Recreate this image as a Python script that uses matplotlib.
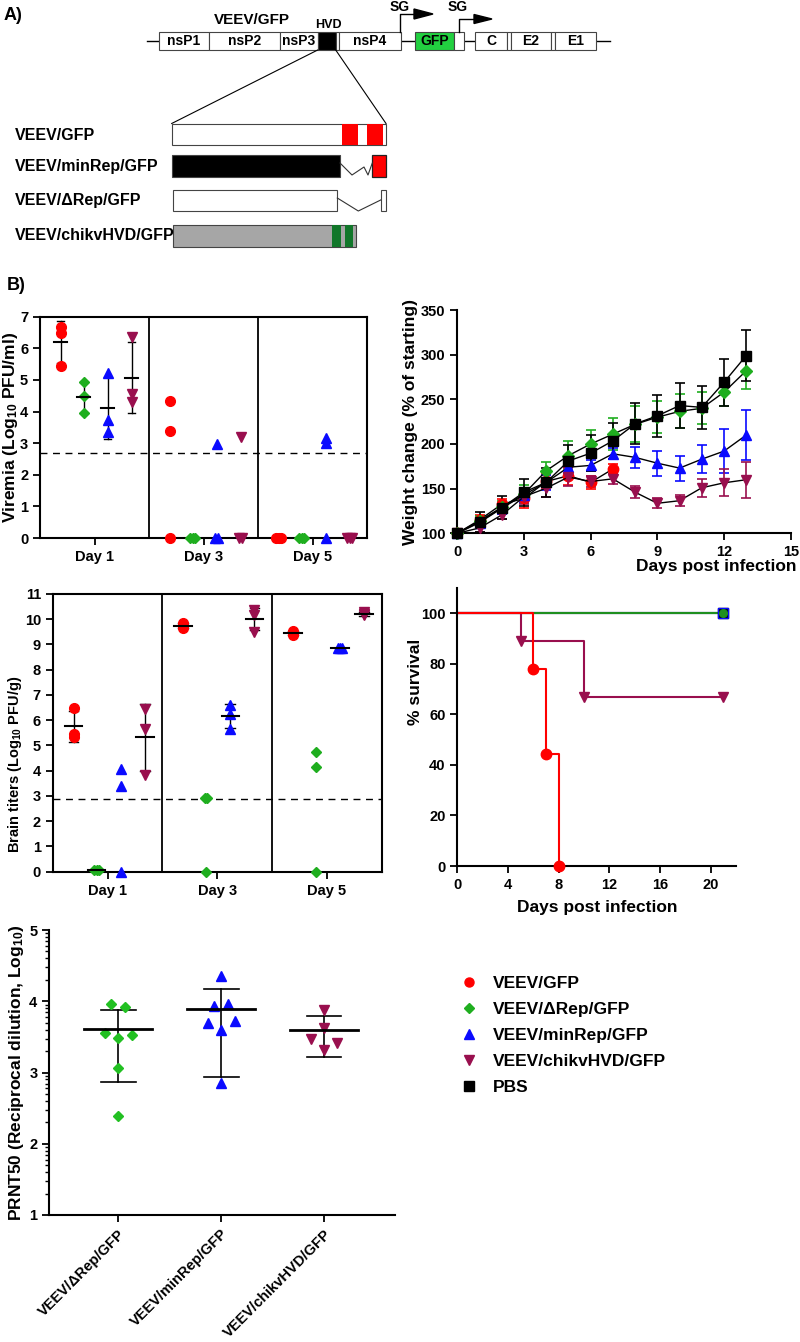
import numpy as np
import matplotlib
matplotlib.use('Agg')
import matplotlib.pyplot as plt
from matplotlib.patches import Rectangle, Polygon
from matplotlib.lines import Line2D
from matplotlib.ticker import FixedLocator, FuncFormatter, LogLocator, NullFormatter

plt.rcParams['font.family'] = ['Liberation Sans', 'DejaVu Sans']
plt.rcParams['font.weight'] = 'bold'
plt.rcParams['axes.labelweight'] = 'bold'
plt.rcParams['mathtext.fontset'] = 'custom'
plt.rcParams['mathtext.rm'] = 'Liberation Sans:bold'
plt.rcParams['mathtext.bf'] = 'Liberation Sans:bold'
plt.rcParams['mathtext.it'] = 'Liberation Sans:bold'
plt.rcParams['mathtext.default'] = 'bf'

# ---------------- data ----------------
groups = ['VEEV/GFP', 'VEEV/\u0394Rep/GFP', 'VEEV/minRep/GFP', 'VEEV/chikvHVD/GFP', 'PBS']
days = ['Day 1', 'Day 3', 'Day 5']

# viremia, log10 PFU/ml, [day1, day3, day5]
vir_gfp = [[6.68, 6.50, 5.44], [4.34, 3.38, 0], [0, 0, 0]]
vir_drep = [[4.92, 4.49, 3.95], [0, 0, 0], [0, 0, 0]]
vir_minrep = [[5.21, 3.74, 3.35], [2.98, 0, 0], [3.15, 3.00, 0]]
vir_chikv = [[6.35, 4.56, 4.29], [3.20, 0, 0], [0, 0, 0]]
vir_lod = 2.7

# brain titers, log10 PFU/g
brain_gfp = [[6.47, 5.45, 5.35], [9.85, 9.72, 9.65], [9.52, 9.45, 9.38]]
brain_drep = [[0.05, 0.05, 0.05], [2.92, 2.92, 0], [4.75, 4.15, 0]]
brain_minrep = [[4.07, 3.40, 0], [6.60, 6.25, 5.65], [8.85, 8.85, 8.85]]
brain_chikv = [[6.45, 5.65, 3.85], [10.35, 10.15, 9.50], [10.30, 10.20, 10.15]]
brain_lod = 2.88

# weight change (% of starting)
w_days = list(range(14))
w_gfp = [100, 115, 132.5, 139, 158, 164.5, 157, 172]
w_gfp_sd = [0, 5, 6, 11, 8, 10, 7, 6]
w_drep = [100, 114, 129, 144, 170, 187, 200, 211, 222, 230, 236.5, 240, 258, 282]
w_drep_sd = [0, 5, 7, 10, 10, 16, 16, 18, 20, 18, 19, 18, 16, 20]
w_minrep = [100, 112, 128, 143, 157, 174, 176, 189, 185, 178.5, 173, 183, 192, 210]
w_minrep_sd = [0, 4, 6, 8, 8, 6, 6, 6, 12, 14, 14, 16, 25, 28]
w_chikv = [100, 106, 120.5, 141, 150.5, 163, 158, 161, 146, 133.6, 136.5, 151, 156.5, 160]
w_chikv_sd = [0, 4, 5, 8, 10, 10, 6, 5.5, 6.5, 5.5, 6, 10, 15, 20]
w_pbs = [100, 113, 128.5, 146, 157, 181, 189.7, 203.5, 222.5, 231.5, 243, 241, 269, 299]
w_pbs_sd = [0, 11, 13, 15, 16, 17.5, 20, 20, 23, 23.5, 25, 24, 26.5, 29]

# survival (Kaplan-Meier steps)
s_gfp_t, s_gfp = [0, 6, 7, 8], [100, 77.8, 44.4, 0]
s_chikv_t, s_chikv = [0, 5, 10, 21], [100, 88.9, 66.7, 66.7]
s_other_t, s_other = [0, 21], [100, 100]

# PRNT50, log10 reciprocal dilution
prnt_drep = [3.96, 3.92, 3.56, 3.48, 3.53, 3.06, 2.39]
prnt_minrep = [4.35, 3.94, 3.96, 3.70, 3.72, 3.59, 2.85]
prnt_chikv = [3.88, 3.63, 3.47, 3.41, 3.32]
prnt_labels = ['VEEV/\u0394Rep/GFP', 'VEEV/minRep/GFP', 'VEEV/chikvHVD/GFP']

# ---------------- styles / layout ----------------
RED, GRN, BLU, PUR, BLK = '#ff0000', '#1fae1f', '#0a0aff', '#990f4e', 'black'
cols = [RED, GRN, BLU, PUR, BLK]
mks = ['o', 'D', '^', 'v', 's']
mss = [7, 5.5, 7, 7, 7]
grp_dx = [-0.31, -0.10, 0.12, 0.34]
prnt_dx = [[-0.068, 0.068, -0.133, 0, 0.136, 0, 0],
           [0, -0.065, 0.071, -0.13, 0.136, 0, 0],
           [0, 0, -0.13, 0.13, 0]]

W, H = 800, 1342
fig = plt.figure(figsize=(W / 100, H / 100), dpi=100)


def px_axes(left, top, right, bottom):
    return fig.add_axes([left / W, 1 - bottom / H, (right - left) / W, (bottom - top) / H])


def tie_spread(v, step):
    off = np.zeros(len(v))
    for u in set(v.tolist()):
        idx = np.where(v == u)[0]
        off[idx] = (np.arange(len(idx)) - (len(idx) - 1) / 2) * step
    return off


def style(ax, box=False):
    for s in ax.spines.values():
        s.set_linewidth(1.5)
    if not box:
        ax.spines['top'].set_visible(False)
        ax.spines['right'].set_visible(False)
    ax.tick_params(direction='out', length=5, width=1.3, labelsize=10.5)


def dot_panel(ax, series, ymax, lod, mean_hw, cap_hw):
    for g, by_day in enumerate(series):
        for d, vals in enumerate(by_day):
            v = np.array(vals, float)
            c = d + grp_dx[g]
            ax.plot(c + tie_spread(v, 0.022), v, ls='none', marker=mks[g], ms=mss[g],
                    color=cols[g], clip_on=False, zorder=4)
            if v.min() > 0:
                m, s = v.mean(), v.std(ddof=1)
                ax.plot([c - mean_hw, c + mean_hw], [m, m], color='black', lw=1.5, zorder=5)
                ax.plot([c, c], [m - s, m + s], color='black', lw=1, zorder=3)
                for e in (m - s, m + s):
                    ax.plot([c - cap_hw, c + cap_hw], [e, e], color='black', lw=1, zorder=3)
    ax.axhline(lod, color='black', lw=1, dashes=(5, 4), zorder=1)
    for xv in (0.5, 1.5):
        ax.axvline(xv, color='black', lw=1.3, zorder=1)
    ax.set_xlim(-0.5, 2.5)
    ax.set_ylim(0, ymax)
    ax.set_xticks(range(3))
    ax.set_xticklabels(days, fontsize=12)
    ax.set_yticks(range(ymax + 1))
    style(ax, box=True)


# ---------------- panel A: genome schematic ----------------
axA = fig.add_axes([0, 1 - 265 / H, 1, 265 / H])
axA.set_xlim(0, W)
axA.set_ylim(265, 0)
axA.axis('off')
EC = '#444444'
axA.plot([147, 610], [41, 41], color='black', lw=1, zorder=1)
genome = [('nsP1', 159, 209, 'white'), ('nsP2', 209, 280, 'white'), ('nsP3', 280, 318, 'white'),
          ('', 318, 336, 'black'), ('', 336, 339, 'white'), ('nsP4', 339, 401, 'white'),
          ('GFP', 415, 454, '#22d040'), ('', 454, 464, 'white'), ('C', 475, 507, 'white'),
          ('', 507, 511, 'white'), ('E2', 511, 551, 'white'), ('', 551, 555, 'white'),
          ('E1', 555, 596, 'white')]
for lab, x0, x1, fc in genome:
    axA.add_patch(Rectangle((x0, 31.7), x1 - x0, 18.3, fc=fc, ec=EC, lw=0.8, zorder=2))
    if lab:
        axA.text((x0 + x1) / 2, 41, lab, ha='center', va='center', fontsize=10, zorder=3)
axA.text(252, 20, 'VEEV/GFP', ha='center', va='center', fontsize=11)
axA.text(328, 25, 'HVD', ha='center', va='center', fontsize=9)
# subgenomic promoters
axA.plot([399.5, 399.5, 414], [31.7, 14, 14], color='black', lw=1)
axA.add_patch(Polygon([(414, 9), (433, 14), (414, 19)], closed=True, fc='black', ec='black'))
axA.plot([459, 459, 474], [31.7, 19, 19], color='black', lw=1)
axA.add_patch(Polygon([(474, 14.5), (492, 19), (474, 23.5)], closed=True, fc='black', ec='black'))
axA.text(400, 7, 'SG', ha='center', va='center', fontsize=10)
axA.text(458, 7, 'SG', ha='center', va='center', fontsize=10)
# zoom lines
axA.plot([317.7, 171.7], [50, 123.5], color='black', lw=0.8)
axA.plot([335.7, 386], [50, 123.5], color='black', lw=0.8)
# HVD variants
axA.add_patch(Rectangle((171.7, 124), 214.3, 21, fc='white', ec=EC, lw=0.8))
axA.add_patch(Rectangle((341.7, 124), 16.6, 21, fc=RED, ec='none'))
axA.add_patch(Rectangle((367.3, 124), 16, 21, fc=RED, ec='none'))
axA.add_patch(Rectangle((171.7, 155), 168.3, 21.7, fc='black', ec=EC, lw=0.8))
axA.plot([340, 352, 364, 368, 372.3], [163, 175, 167, 175, 163], color='#333333', lw=0.8)
axA.add_patch(Rectangle((372.3, 155), 13.7, 21.7, fc=RED, ec='#222222', lw=0.9))
axA.add_patch(Rectangle((173.3, 190), 164, 21, fc='white', ec=EC, lw=0.8))
axA.plot([337.3, 358.3, 380.7], [198, 211, 200], color='#333333', lw=0.8)
axA.add_patch(Rectangle((380.7, 190), 5.3, 21, fc='white', ec=EC, lw=0.8))
axA.add_patch(Rectangle((173.3, 225), 182.4, 21.7, fc='#a6a6a6', ec=EC, lw=0.8))
axA.add_patch(Rectangle((332.3, 225), 8.4, 21.7, fc='#11772a', ec='none'))
axA.add_patch(Rectangle((345, 225), 7.7, 21.7, fc='#11772a', ec='none'))
for lab, yc in zip(['VEEV/GFP', 'VEEV/minRep/GFP', 'VEEV/\u0394Rep/GFP', 'VEEV/chikvHVD/GFP'],
                   [135, 166, 201, 236]):
    axA.text(15, yc, lab, ha='left', va='center', fontsize=11.5)
axA.text(4, 15, 'A)', ha='left', va='center', fontsize=13)
fig.text(7 / W, 1 - 285 / H, 'B)', ha='left', va='center', fontsize=13)

# ---------------- viremia ----------------
axV = px_axes(40, 316.7, 367, 538)
dot_panel(axV, [vir_gfp, vir_drep, vir_minrep, vir_chikv], 7, vir_lod, 0.06, 0.03)
axV.set_ylabel('Viremia (Log$_{10}$ PFU/ml)', fontsize=12.5)
axV.yaxis.set_label_coords(-0.062, 0.5)

# ---------------- brain titers ----------------
axB = px_axes(52.7, 594, 381.7, 871.7)
dot_panel(axB, [brain_gfp, brain_drep, brain_minrep, brain_chikv], 11, brain_lod, 0.08, 0.045)
axB.set_ylabel('Brain titers (Log$_{10}$ PFU/g)', fontsize=10.5)
axB.yaxis.set_label_coords(-0.088, 0.388)

# ---------------- weight ----------------
axW = px_axes(457.3, 310, 790.7, 533.3)
w_series = [(w_chikv, w_chikv_sd, 3), (w_minrep, w_minrep_sd, 2), (w_drep, w_drep_sd, 1),
            (w_gfp, w_gfp_sd, 0), (w_pbs, w_pbs_sd, 4)]
for vals, sd, g in w_series:
    d = w_days[:len(vals)]
    axW.errorbar(d, vals, yerr=sd, fmt='none', ecolor=cols[g], elinewidth=1.2,
                 capsize=3.5, capthick=1.2, zorder=2 + g * 0.1, clip_on=False)
    axW.plot(d, vals, color='black', lw=1, marker=mks[g], ms=mss[g] + 0.5,
             mfc=cols[g], mec=cols[g], zorder=3 + g * 0.1, clip_on=False)
axW.set_xlim(0, 15)
axW.set_ylim(100, 350)
axW.set_xticks(range(0, 16, 3))
axW.set_yticks(range(100, 351, 50))
style(axW)
axW.set_ylabel('Weight change (% of starting)', fontsize=12.5)
axW.yaxis.set_label_coords(-0.118, 0.5)
axW.set_xlabel('Days post infection', fontsize=12.5, ha='right')
axW.xaxis.set_label_coords(1.018, -0.115)

# ---------------- survival ----------------
axS = px_axes(457.3, 588, 736, 866)
axS.step(s_other_t, s_other, where='post', color=BLK, lw=1.5)
axS.step(s_other_t, s_other, where='post', color=BLU, lw=1.5)
axS.step(s_other_t, s_other, where='post', color='#1f8f1f', lw=1.5)
axS.plot(s_other_t[-1:], s_other[-1:], 's', color=BLK, ms=7, clip_on=False)
axS.plot(s_other_t[-1:], s_other[-1:], 's', mfc='none', mec=BLU, ms=7, clip_on=False)
axS.plot(s_other_t[-1:], s_other[-1:], 'o', color='#1f8f1f', ms=5.5, clip_on=False)
axS.step(s_chikv_t, s_chikv, where='post', color=PUR, lw=1.5)
axS.plot(s_chikv_t[1:], s_chikv[1:], 'v', color=PUR, ms=7, clip_on=False)
axS.step(s_gfp_t, s_gfp, where='post', color=RED, lw=1.5)
axS.plot(s_gfp_t[1:], s_gfp[1:], 'o', color=RED, ms=7.5, clip_on=False, zorder=5)
axS.set_xlim(0, 22)
axS.set_ylim(0, 110)
axS.set_xticks(range(0, 21, 4))
axS.set_yticks(range(0, 101, 20))
style(axS)
axS.set_ylabel('% survival', fontsize=12.5)
axS.yaxis.set_label_coords(-0.123, 0.662)
axS.set_xlabel('Days post infection', fontsize=12.5)
axS.xaxis.set_label_coords(0.501, -0.122)

# ---------------- PRNT50 ----------------
axP = px_axes(49.3, 930, 395, 1215)
axP.set_yscale('log')
for g, (vals, gc) in enumerate(zip([prnt_drep, prnt_minrep, prnt_chikv], [1, 2, 3])):
    raw = 10 ** np.array(vals)
    axP.plot(g + np.array(prnt_dx[g]), raw, ls='none', marker=mks[gc], ms=mss[gc],
             color='#22c022' if gc == 1 else cols[gc], zorder=4)
    m, s = raw.mean(), raw.std(ddof=1)
    axP.plot([g - 0.33, g + 0.33], [m, m], color='black', lw=2, zorder=5)
    axP.plot([g, g], [m - s, m + s], color='black', lw=1.2, zorder=3)
    for e in (m - s, m + s):
        axP.plot([g - 0.17, g + 0.17], [e, e], color='black', lw=1.2, zorder=3)
axP.set_xlim(-0.67, 2.69)
axP.set_ylim(10, 1e5)
axP.yaxis.set_major_locator(FixedLocator([1e1, 1e2, 1e3, 1e4, 1e5]))
axP.yaxis.set_major_formatter(FuncFormatter(lambda v, p: '%d' % round(np.log10(v))))
axP.yaxis.set_minor_locator(LogLocator(base=10, subs=range(2, 10)))
axP.yaxis.set_minor_formatter(NullFormatter())
axP.set_xticks(range(3))
axP.set_xticklabels(prnt_labels, rotation=45, ha='right', rotation_mode='anchor', fontsize=11.5)
style(axP)
axP.tick_params(axis='y', which='minor', length=3, width=1)
axP.set_ylabel('PRNT50 (Reciprocal dilution, Log$_{10}$)', fontsize=12.5)
axP.yaxis.set_label_coords(-0.068, 0.5)

# ---------------- legend ----------------
handles = [Line2D([], [], ls='none', marker=mks[i], ms=mss[i] - 0.5, color=cols[i]) for i in range(5)]
fig.legend(handles, groups, loc='upper left', bbox_to_anchor=(460 / W, 1 - 976 / H),
           frameon=False, fontsize=12.5, handlelength=1.0, handletextpad=0.9,
           labelspacing=0.62, borderpad=0, borderaxespad=0)

fig.savefig('out.png', dpi=100)
